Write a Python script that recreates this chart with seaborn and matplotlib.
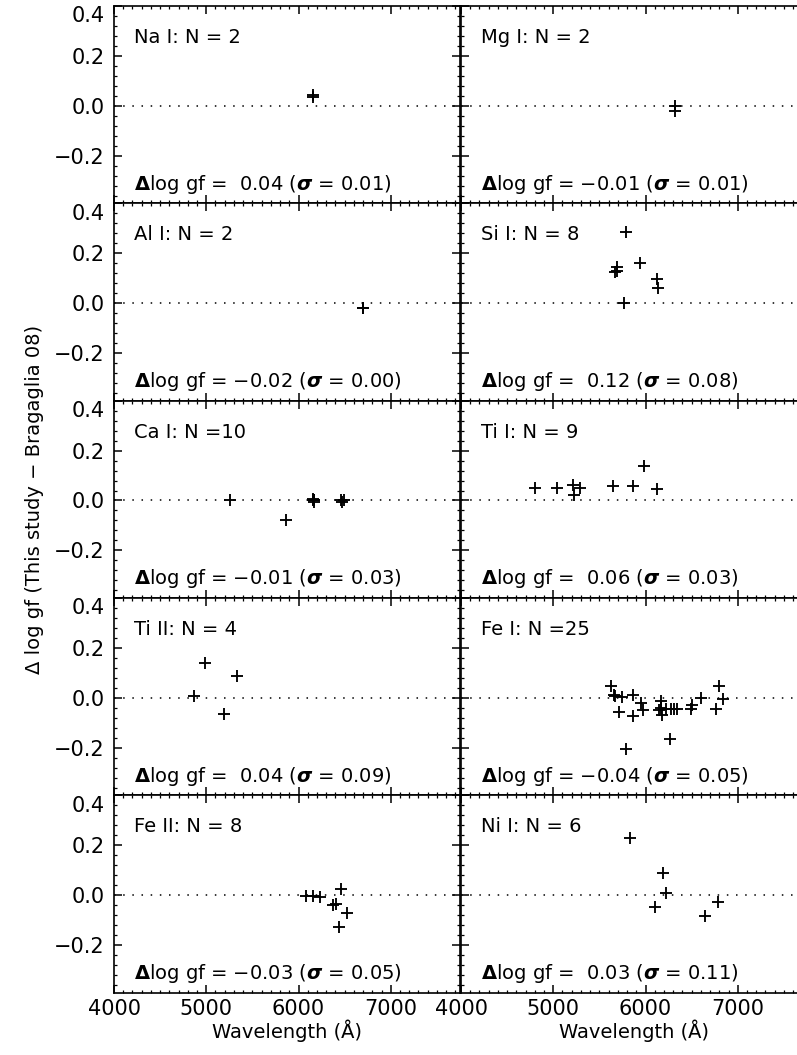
import matplotlib
matplotlib.use("Agg")
import matplotlib.pyplot as plt
import pandas as pd
import seaborn as sns
from matplotlib.ticker import MultipleLocator, FixedLocator
from matplotlib.transforms import ScaledTranslation

# wavelength (A) and delta log gf, one pair of lists per species
NA1_WAVE = [6154, 6161]
NA1_DLOG = [0.035, 0.045]

MG1_WAVE = [6319, 6319]
MG1_DLOG = [0.0, -0.02]

AL1_WAVE = [6696, 6699]
AL1_DLOG = [-0.02, -0.02]

SI1_WAVE = [5664, 5686, 5693, 5765, 5790, 5942, 6119, 6137]
SI1_DLOG = [0.124, 0.144, 0.128, 0.0, 0.287, 0.161, 0.095, 0.06]

CA1_WAVE = [5261, 5867, 6156, 6161, 6166, 6169, 6170, 6455, 6471, 6493]
CA1_DLOG = [0.0, -0.08, 0.0, 0.005, -0.005, 0.0, 0.0, 0.0, -0.005, 0.0]

TI1_WAVE = [4800, 5040, 5214, 5222, 5285, 5652, 5859, 5983, 6128]
TI1_DLOG = [0.051, 0.051, 0.064, 0.023, 0.051, 0.06, 0.06, 0.14, 0.047]

TI2_WAVE = [4866, 4982, 5188, 5337]
TI2_DLOG = [0.007, 0.14, -0.063, 0.087]

FE1_WAVE = [5631, 5656, 5674, 5710, 5746, 5783, 5866, 5866, 5946, 5975,
            6145, 6170, 6170, 6181, 6218, 6261, 6272, 6308, 6344, 6489,
            6507, 6598, 6761, 6797, 6844]
FE1_DLOG = [0.049, 0.01, 0.009, -0.057, 0.003, -0.204, 0.013, -0.073, -0.02, -0.047,
            -0.05, -0.013, -0.04, -0.067, -0.043, -0.164, -0.043, -0.043, -0.043, -0.043,
            -0.027, 0.0, -0.043, 0.049, -0.004]

FE2_WAVE = [6076, 6155, 6236, 6373, 6409, 6438, 6464, 6529]
FE2_DLOG = [-0.004, -0.004, -0.007, -0.041, -0.037, -0.128, 0.023, -0.073]

NI1_WAVE = [5837, 6101, 6192, 6225, 6648, 6790]
NI1_DLOG = [0.229, -0.049, 0.087, 0.009, -0.083, -0.029]

# panel order: row by row, left then right
SPECIES = ["Na I", "Mg I", "Al I", "Si I", "Ca I", "Ti I", "Ti II", "Fe I", "Fe II", "Ni I"]
WAVES = [NA1_WAVE, MG1_WAVE, AL1_WAVE, SI1_WAVE, CA1_WAVE, TI1_WAVE, TI2_WAVE, FE1_WAVE, FE2_WAVE, NI1_WAVE]
DLOGS = [NA1_DLOG, MG1_DLOG, AL1_DLOG, SI1_DLOG, CA1_DLOG, TI1_DLOG, TI2_DLOG, FE1_DLOG, FE2_DLOG, NI1_DLOG]
MEANS = [0.04, -0.01, -0.02, 0.12, -0.01, 0.06, 0.04, -0.04, -0.03, 0.03]
SIGMAS = [0.01, 0.01, 0.00, 0.08, 0.03, 0.03, 0.09, 0.05, 0.05, 0.11]


def fmt_mean(v):
    # IDL style f5.2: positive numbers get a leading blank
    s = f"{abs(v):.2f}"
    return ("\u2212" + s) if v < 0 else (" " + s)


sns.set_style("ticks")
plt.rcParams["font.family"] = ["DejaVu Sans"]
plt.rcParams["mathtext.fontset"] = "dejavusans"
for key in ["text.color", "axes.labelcolor", "xtick.color", "ytick.color", "axes.edgecolor"]:
    plt.rcParams[key] = "black"

W, H = 797, 1055
fig = plt.figure(figsize=(W / 100, H / 100), dpi=100)

left_px, mid_px, panel_w = 114, 461, 346
top_px, panel_h = 6, 197.3

for i, name in enumerate(SPECIES):
    row, col = divmod(i, 2)
    x0 = (left_px if col == 0 else mid_px) / W
    y0 = 1 - (top_px + (row + 1) * panel_h) / H
    ax = fig.add_axes([x0, y0, panel_w / W, panel_h / H])

    df = pd.DataFrame({"wave": WAVES[i], "dlog": DLOGS[i]})
    sns.scatterplot(data=df, x="wave", y="dlog", marker="+", s=85, color="black",
                    linewidth=1.35, ax=ax, legend=False, zorder=3)
    ax.axhline(0.0, color="black", lw=1.1, ls=(0, (1, 5)), zorder=1)

    ax.set_xlim(4000, 7750)
    ax.set_ylim(-0.39, 0.4)
    ax.set_xlabel("")
    ax.set_ylabel("")
    ax.xaxis.set_major_locator(FixedLocator([4000, 5000, 6000, 7000]))
    ax.xaxis.set_minor_locator(MultipleLocator(100))
    ax.yaxis.set_major_locator(FixedLocator([-0.2, 0.0, 0.2, 0.4]))
    ax.yaxis.set_minor_locator(MultipleLocator(0.04))
    ax.tick_params(which="both", direction="in", top=True, right=True, color="black")
    ax.tick_params(which="major", length=6, width=1.1, labelsize=15, pad=7)
    ax.tick_params(which="minor", length=2.5, width=0.9)
    for sp in ax.spines.values():
        sp.set_linewidth(1.2)

    if col == 1:
        ax.tick_params(labelleft=False)
    else:
        ax.yaxis.set_major_formatter(plt.FuncFormatter(lambda v, p: f"{v:.1f}".replace("-", "\u2212")))
        # the top label sits a little below the panel edge in the original
        tk = ax.yaxis.get_major_ticks()[3]
        tk.label1.set_transform(tk.label1.get_transform() + ScaledTranslation(0, -6 / 72, fig.dpi_scale_trans))
    if row < 4:
        ax.tick_params(labelbottom=False)
    else:
        ax.tick_params(axis="x", pad=5)
        ax.set_xlabel("Wavelength (\u00c5)", fontsize=14, labelpad=0)

    n = len(WAVES[i])
    ax.text(0.058, 0.84, f"{name}: N ={n:2d}", transform=ax.transAxes,
            fontsize=14, ha="left", va="center")
    ax.text(0.058, 0.097,
            r"$\mathbf{\Delta}$log gf = " + fmt_mean(MEANS[i]) + r" ($\mathbfit{\sigma}$ = " + f"{SIGMAS[i]:.2f})",
            transform=ax.transAxes, fontsize=14, ha="left", va="center")

fig.text(35 / W, 1 - 499 / H, "\u0394 log gf (This study \u2212 Bragaglia 08)",
         rotation=90, ha="center", va="center", fontsize=14)

fig.savefig("out.png", dpi=100)
